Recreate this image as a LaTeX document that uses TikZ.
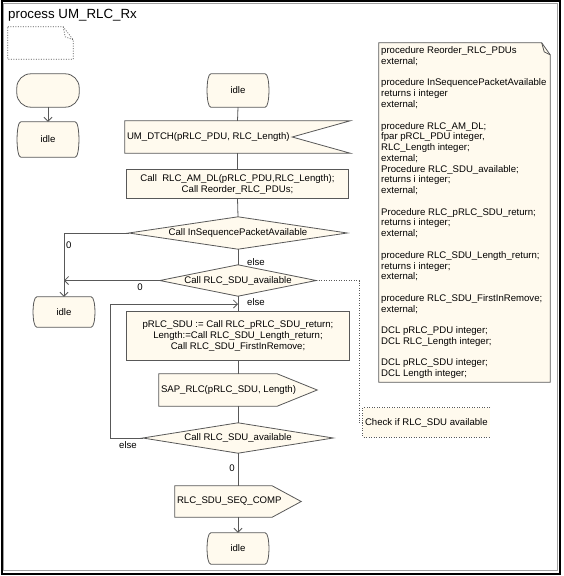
\documentclass[tikz,border=0pt]{standalone}
\usepackage{fontspec}
\setmainfont{Liberation Sans}
\usetikzlibrary{arrows.meta,backgrounds,calc}
\definecolor{sdlfill}{RGB}{255,250,238}
\definecolor{sdlline}{RGB}{88,88,88}
\definecolor{framegray}{RGB}{160,160,160}
\newcommand\sdlfont{\fontsize{9.6}{11}\selectfont}
\newcommand\statepath[1]{%
  \path[outline] ([xshift=4pt]#1.north west) -- ([xshift=-4pt]#1.north east)
    .. controls ([xshift=1pt]#1.north east) and ([xshift=1pt]#1.south east) .. ([xshift=-4pt]#1.south east)
    -- ([xshift=4pt]#1.south west)
    .. controls ([xshift=-1pt]#1.south west) and ([xshift=-1pt]#1.north west) .. ([xshift=4pt]#1.north west) -- cycle;}
\begin{document}
\begin{tikzpicture}[x=1pt,y=-1pt,
  lbl/.style={font=\sdlfont, text=black, inner sep=0pt},
  sym/.style={draw=none, inner sep=0pt, font=\sdlfont, text=black, align=center},
  lsym/.style={draw=none, inner ysep=0pt, inner xsep=2pt, font=\sdlfont, text=black},
  outline/.style={draw=sdlline, fill=sdlfill, line width=0.8pt},
  flow/.style={draw=sdlline, line width=0.8pt},
  arr/.style={flow, -{Straight Barb[length=4pt,width=8pt,line width=0.8pt]}},
  dotline/.style={draw=sdlline, line width=0.7pt, dash pattern=on 1pt off 1.5pt}]

\useasboundingbox (0,0) rectangle (563,576);
\draw[black, line width=2pt] (1.5,1) rectangle (560,573.5);
\draw[framegray, line width=1pt] (3.5,3.5) rectangle (557,570.5);

\node[lbl, anchor=base west, font=\fontsize{13.3}{15}\selectfont] (title) at (8,18.5) {process UM\_RLC\_Rx};

% symbols
\node[sym, minimum width=65, minimum height=32] (textsym) at (40.5,43) {};
\node[sym, minimum width=62, minimum height=33] (start) at (48,90.5) {};
\node[sym, minimum width=62, minimum height=35] (idle0) at (48,139.5) {idle};
\node[sym, minimum width=62, minimum height=33] (idle1) at (238,90.5) {idle};
\node[lsym, minimum height=32] (in1) at (237.5,137) {\makebox[221pt][l]{UM\_DTCH(pRLC\_PDU, RLC\_Length)}};
\node[sym, minimum width=221, minimum height=28] (task1) at (237.5,184) {Call\ \ RLC\_AM\_DL(pRLC\_PDU,RLC\_Length);\\Call Reorder\_RLC\_PDUs;};
\node[sym, minimum width=218, minimum height=32] (dec1) at (238,233) {Call InSequencePacketAvailable};
\node[sym, minimum width=156, minimum height=31] (dec2) at (238,280.5) {Call RLC\_SDU\_available};
\node[sym, minimum width=62, minimum height=30] (idle2) at (64,312) {idle};
\node[sym, minimum width=222, minimum height=48] (task2) at (238,336) {pRLC\_SDU := Call RLC\_pRLC\_SDU\_return;\\Length:=Call RLC\_SDU\_Length\_return;\\Call RLC\_SDU\_FirstInRemove;};
\node[lsym, minimum height=32] (out1) at (238,390) {\makebox[154pt][l]{SAP\_RLC(pRLC\_SDU, Length)}};
\node[sym, minimum width=190, minimum height=30] (dec3) at (238,438) {Call RLC\_SDU\_available};
\node[lsym, minimum height=31] (out2) at (238,501.5) {\makebox[122pt][l]{RLC\_SDU\_SEQ\_COMP}};
\node[sym, minimum width=62, minimum height=31] (idle3) at (238,548.5) {idle};
\node[sym, minimum width=171, minimum height=339] (note) at (464.5,212.5) {};
\node[lbl, anchor=north west, align=left, font=\fontsize{9.6}{10.77}\selectfont] (notetext) at (381,46.5) {%
procedure Reorder\_RLC\_PDUs\\
external;\\[10.77pt]
procedure InSequencePacketAvailable\\
returns i integer\\
external;\\[10.77pt]
procedure RLC\_AM\_DL;\\
fpar pRCL\_PDU integer,\\
RLC\_Length integer;\\
external;\\
Procedure RLC\_SDU\_available;\\
returns i integer;\\
external;\\[10.77pt]
Procedure RLC\_pRLC\_SDU\_return;\\
returns i integer;\\
external;\\[10.77pt]
procedure RLC\_SDU\_Length\_return;\\
returns i integer;\\
external;\\[10.77pt]
procedure RLC\_SDU\_FirstInRemove;\\
external;\\[10.77pt]
DCL pRLC\_PDU integer;\\
DCL RLC\_Length integer;\\[10.77pt]
DCL pRLC\_SDU integer;\\
DCL Length integer;};
\node[lsym, minimum height=29] (cmt) at (426.5,422.5) {\makebox[123pt][l]{Check if RLC\_SDU available}};

% outlines
\begin{scope}[on background layer]
  \draw[dotline] (textsym.north west) -- ([xshift=-10pt]textsym.north east) -- ([yshift=-13pt]textsym.north east) -- (textsym.south east) -- (textsym.south west) -- cycle;
  \draw[dotline] ([xshift=-10pt]textsym.north east) -- ([xshift=-8pt,yshift=-10pt]textsym.north east) -- ([yshift=-13pt]textsym.north east);
  \path[outline, rounded corners=14pt] (start.north west) rectangle (start.south east);
  \statepath{idle0}
  \statepath{idle1}
  \statepath{idle2}
  \statepath{idle3}
  \path[outline] (in1.north west) -- (in1.north east) -- ([xshift=-58pt]in1.east) -- (in1.south east) -- (in1.south west) -- cycle;
  \path[outline] (task1.north west) rectangle (task1.south east);
  \path[outline] (dec1.west) -- (dec1.north) -- (dec1.east) -- (dec1.south) -- cycle;
  \path[outline] (dec2.west) -- (dec2.north) -- (dec2.east) -- (dec2.south) -- cycle;
  \path[outline] (task2.north west) rectangle (task2.south east);
  \path[outline] (out1.north west) -- ([xshift=-40pt]out1.north east) -- (out1.east) -- ([xshift=-40pt]out1.south east) -- (out1.south west) -- cycle;
  \path[outline] (dec3.west) -- (dec3.north) -- (dec3.east) -- (dec3.south) -- cycle;
  \path[outline] (out2.north west) -- ([xshift=-29pt]out2.north east) -- (out2.east) -- ([xshift=-29pt]out2.south east) -- (out2.south west) -- cycle;
  \path[outline] (note.north west) -- ([xshift=-8.5pt]note.north east) -- ([yshift=-12pt]note.north east) -- (note.south east) -- (note.south west) -- cycle;
  \draw[sdlline, line width=0.8pt] ([xshift=-8.5pt]note.north east) -- ([xshift=-6pt,yshift=-9pt]note.north east) -- ([yshift=-12pt]note.north east);
  \fill[sdlfill] (cmt.north west) rectangle (cmt.south east);
  \draw[dotline] (cmt.north east) -- (cmt.north west) -- (cmt.south west) -- (cmt.south east);
\end{scope}

% connectors
\draw[arr] (start.south) -- (idle0.north);
\draw[flow] (idle1.south) -- (in1.north);
\draw[flow] (in1.south) -- (task1.north);
\draw[flow] (task1.south) -- (dec1.north);
\draw[flow] (dec1.south) -- (dec2.north);
\node[lbl, anchor=west] (l1) at (247,262) {else};
\draw[arr] (dec1.west) -| (idle2.north);
\node[lbl, anchor=west] (l2) at (66,245.5) {0};
\draw[arr] (dec2.west) -- (dec2.west -| idle2.north);
\node[lbl] (l3) at (140,287) {0};
\draw[flow] (dec2.south) -- (task2.north);
\coordinate (jn) at ($(dec2.south)!0.5!(task2.north)$);
\node[lbl, anchor=west] (l4) at (247,302.5) {else};
\draw[arr] (dec3.west) -- ++(-32,0) |- (jn);
\node[lbl] (l5) at (128,445) {else};
\draw[flow] (task2.south) -- (out1.north);
\draw[flow] (out1.south) -- (dec3.north);
\draw[flow] (dec3.south) -- (out2.north);
\node[lbl, anchor=east] (l6) at (235,468) {0};
\draw[arr] (out2.south) -- (idle3.north);
\draw[dotline] (dec2.east) -- ++(43,0) |- (cmt.west);
\end{tikzpicture}
\end{document}
